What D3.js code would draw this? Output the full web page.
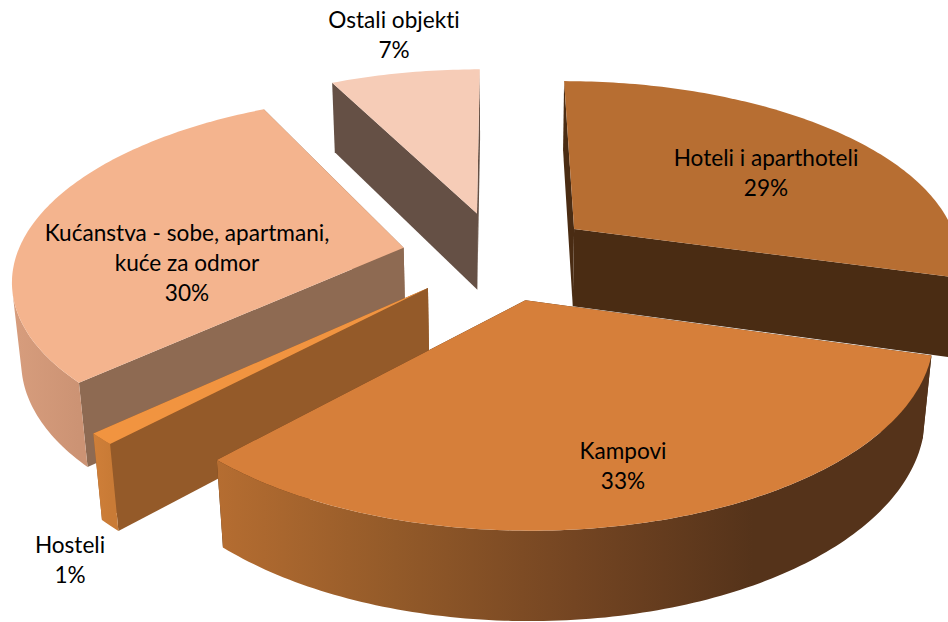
<!DOCTYPE html>
<html>
<head>
<meta charset="utf-8">
<title>Pie</title>
<script src="https://cdn.jsdelivr.net/npm/d3@7"></script>
<style>
	body { margin: 0; background: #fff; }
	svg { display: block; }
	text { font-family: Lato, "Open Sans", sans-serif; font-size: 22.6px; font-variant-ligatures: none; fill: #000; text-anchor: middle; }
</style>
</head>
<body>
<svg id="chart" width="948" height="622"></svg>
<script>
// data, the printed labels round these
const categories = ["Hoteli i aparthoteli", "Kampovi", "Hosteli", "Kućanstva - sobe, apartmani, kuće za odmor", "Ostali objekti"];
const shares = [29.4, 32.6, 1, 29.6, 7.4];

// styles, same order as the categories
const topColors = ["#b76e32", "#d67f3a", "#f19440", "#f4b48e", "#f6ccb7"];
const wallColors = ["#4a2c13", "#4a2c13", "#945a29", "#8e6a52", "#655045"];
const rimStops = [
	["#4a2c13", "#4a2c13"],
	["#b56d31", "#935a29", "#744522", "#55331a", "#55331a"],
	["#cf7f39", "#c97b36"],
	["#d79d7d", "#cc9374"],
	["#f0c4ae", "#d8b09a"]
];
const labelLines = [["Hoteli i aparthoteli", "29%"], ["Kampovi", "33%"], ["Hosteli", "1%"], ["Kućanstva - sobe, apartmani,", "kuće za odmor", "30%"], ["Ostali objekti", "7%"]];
const labelX = [766, 623, 70, 187, 394];
const labelY = [166, 459, 553, 241, 28];
const lineHeight = 30;

// painted back to front
const paintOrder = [4, 0, 3, 2, 1];

// view of the 3d pie
const centerX = 498.5;
const centerY = 255.5;
const radius = 387;
const thickness = 90;
const explode = 97;
const tilt = 27.5 * Math.PI / 180;
const camera = 2200;
const firstAngle = 0;

// x is right, y is toward the viewer, h is up
function project(x, y, h) {
	let up = h * Math.cos(tilt) - y * Math.sin(tilt);
	let near = y * Math.cos(tilt) + h * Math.sin(tilt);
	let s = camera / (camera - near);
	return [centerX + x * s, centerY - up * s];
}

function rimPoint(slice, angle, h) {
	return project(slice.ox + radius * Math.sin(angle), slice.oy - radius * Math.cos(angle), h);
}

// true when the outer wall at this angle turns toward the camera
function rimFacing(slice, angle) {
	let px = slice.ox + radius * Math.sin(angle);
	let py = slice.oy - radius * Math.cos(angle);
	return Math.sin(angle) * (0 - px) - Math.cos(angle) * (camera * Math.cos(tilt) - py) > 0;
}

let pie = d3.pie().sort(null).startAngle(firstAngle).endAngle(firstAngle + 2 * Math.PI);
let slices = pie(shares).map((d, i) => {
	let mid = (d.startAngle + d.endAngle) / 2;
	return {
		index: i,
		start: d.startAngle,
		end: d.endAngle,
		ox: explode * Math.sin(mid),
		oy: -explode * Math.cos(mid)
	};
});

let svg = d3.select("#chart");
let defs = svg.append("defs");
let line = d3.line();

function arcAngles(slice) {
	let n = Math.max(4, Math.ceil((slice.end - slice.start) * 60));
	return d3.range(n + 1).map(k => slice.start + (slice.end - slice.start) * k / n);
}

function radialWall(slice, angle) {
	return [
		project(slice.ox, slice.oy, 0),
		rimPoint(slice, angle, 0),
		rimPoint(slice, angle, -thickness),
		project(slice.ox, slice.oy, -thickness)
	];
}

let groups = svg.selectAll("g.slice")
	.data(paintOrder.map(i => slices[i]))
	.join("g")
	.attr("class", "slice");

groups.each(function(d) {
	let g = d3.select(this);
	let angles = arcAngles(d);
	let topArc = angles.map(a => rimPoint(d, a, 0));
	let rimAngles = angles.filter(a => rimFacing(d, a));

	//Walls at the cut edges
	g.append("path")
		.attr("d", line(radialWall(d, d.end)) + "Z")
		.attr("fill", wallColors[d.index]);
	g.append("path")
		.attr("d", line(radialWall(d, d.start)) + "Z")
		.attr("fill", wallColors[d.index]);

	//Outer wall, only the part facing the viewer
	if (rimAngles.length > 1) {
		let rimTop = rimAngles.map(a => rimPoint(d, a, 0));
		let rimBottom = rimAngles.map(a => rimPoint(d, a, -thickness));
		let xs = rimTop.map(p => p[0]);
		let gradient = defs.append("linearGradient")
			.attr("id", "rim" + d.index)
			.attr("gradientUnits", "userSpaceOnUse")
			.attr("x1", d3.min(xs))
			.attr("x2", d3.max(xs))
			.attr("y1", 0)
			.attr("y2", 0);
		let stops = rimStops[d.index];
		gradient.selectAll("stop")
			.data(stops)
			.join("stop")
			.attr("offset", (s, i) => i / (stops.length - 1))
			.attr("stop-color", s => s);
		g.append("path")
			.attr("d", line(rimTop.concat(rimBottom.reverse())) + "Z")
			.attr("fill", "url(#rim" + d.index + ")");
	}

	//Top face
	g.append("path")
		.attr("d", line([project(d.ox, d.oy, 0)].concat(topArc)) + "Z")
		.attr("fill", topColors[d.index]);
});

//Labels
svg.selectAll("text.label")
	.data(categories)
	.join("text")
	.attr("class", "label")
	.attr("x", (d, i) => labelX[i])
	.attr("y", (d, i) => labelY[i])
	.selectAll("tspan")
	.data((d, i) => labelLines[i].map((t, k) => ({ text: t, x: labelX[i], k: k })))
	.join("tspan")
	.attr("x", d => d.x)
	.attr("dy", d => d.k == 0 ? 0 : lineHeight)
	.text(d => d.text);
</script>
</body>
</html>
